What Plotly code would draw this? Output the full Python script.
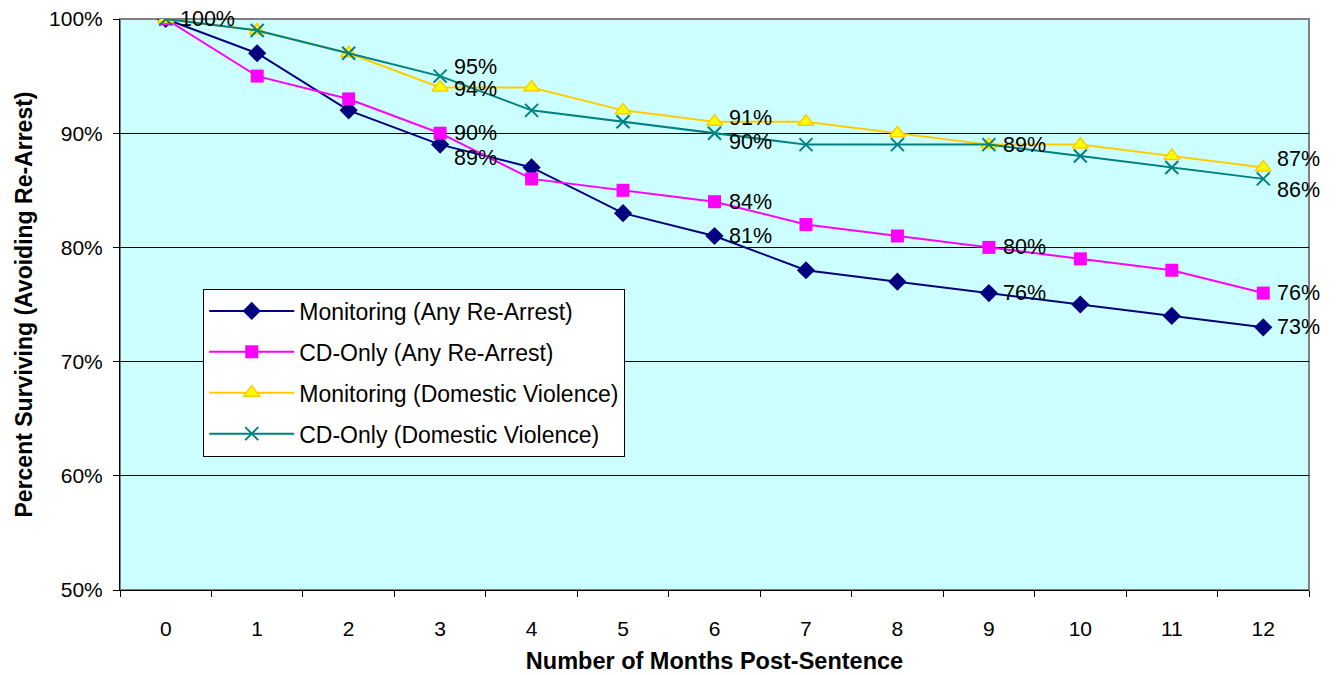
import plotly.graph_objects as go

months = [str(m) for m in range(13)]
mon_any = [1.00, 0.97, 0.92, 0.89, 0.87, 0.83, 0.81, 0.78, 0.77, 0.76, 0.75, 0.74, 0.73]
cd_any = [1.00, 0.95, 0.93, 0.90, 0.86, 0.85, 0.84, 0.82, 0.81, 0.80, 0.79, 0.78, 0.76]
mon_dv = [1.00, 0.99, 0.97, 0.94, 0.94, 0.92, 0.91, 0.91, 0.90, 0.89, 0.89, 0.88, 0.87]
cd_dv = [1.00, 0.99, 0.97, 0.95, 0.92, 0.91, 0.90, 0.89, 0.89, 0.89, 0.88, 0.87, 0.86]
y_ticks = [0.5, 0.6, 0.7, 0.8, 0.9, 1.0]

# data labels: (series values, month index, vertical pixel shift)
label_specs = [
    (cd_any, 0, 0),
    (cd_dv, 3, 9), (mon_dv, 3, -1), (cd_any, 3, 0), (mon_any, 3, -13),
    (mon_dv, 6, 4), (cd_dv, 6, -9), (cd_any, 6, 0), (mon_any, 6, 0),
    (cd_dv, 9, 0), (cd_any, 9, 0), (mon_any, 9, 0),
    (mon_dv, 12, 8), (cd_dv, 12, -11), (cd_any, 12, 0), (mon_any, 12, 0),
]

FONT = "Arial, Liberation Sans, sans-serif"

fig = go.Figure()
fig.add_trace(go.Scatter(x=months, y=mon_any, mode="lines+markers",
                         name="Monitoring (Any Re-Arrest)", legendgroup="a",
                         line=dict(color="#000080", width=2),
                         marker=dict(symbol="diamond", size=14, color="#000080")))
fig.add_trace(go.Scatter(x=months, y=cd_any, mode="lines+markers",
                         name="CD-Only (Any Re-Arrest)", legendgroup="b",
                         line=dict(color="#FF00FF", width=2),
                         marker=dict(symbol="square", size=13, color="#FF00FF")))
fig.add_trace(go.Scatter(x=months, y=mon_dv, mode="lines+markers",
                         name="Monitoring (Domestic Violence)", legendgroup="c",
                         line=dict(color="#FFCC00", width=2),
                         marker=dict(symbol="triangle-up", size=14, color="#FFFF00",
                                     line=dict(color="#FFCC00", width=1.5))))
fig.add_trace(go.Scatter(x=months, y=cd_dv, mode="lines+markers",
                         name="CD-Only (Domestic Violence)", legendgroup="d",
                         line=dict(color="#008080", width=2),
                         marker=dict(symbol="x-thin", size=13, color="#008080",
                                     line=dict(color="#008080", width=2))))

for series, idx, dy in label_specs:
    fig.add_annotation(x=months[idx], y=series[idx], text=f"{series[idx]*100:.0f}%",
                       showarrow=False, xanchor="left", yanchor="middle",
                       xshift=12, yshift=dy,
                       font=dict(family=FONT, size=21.5, color="black"))

fig.add_shape(type="rect", xref="paper", yref="paper", x0=0, y0=0, x1=1, y1=1,
              line=dict(color="#808080", width=2), layer="below")

fig.update_layout(
    width=1320, height=667,
    margin=dict(l=112, r=19, t=11, b=85, autoexpand=False),
    paper_bgcolor="white", plot_bgcolor="#CCFFFF",
    font=dict(family=FONT, size=21, color="black"),
    showlegend=True,
    legend=dict(x=0.07, y=0.528, xanchor="left", yanchor="top",
                bgcolor="white", bordercolor="black", borderwidth=1,
                font=dict(family=FONT, size=23, color="black"),
                traceorder="grouped", tracegroupgap=8,
                itemwidth=85),
    xaxis=dict(type="category", range=[-0.5, 12.5], showgrid=False,
               ticks="outside", tickson="boundaries", ticklen=6, tickcolor="black",
               showline=True, linecolor="black", linewidth=1,
               ticklabelstandoff=20,
               title=dict(text="<b>Number of Months Post-Sentence</b>", standoff=13,
                          font=dict(family=FONT, size=23.5, color="black")),
               tickfont=dict(family=FONT, size=21, color="black")),
    yaxis=dict(range=[0.5, 1.0], tickvals=y_ticks, tickformat=".0%",
               showgrid=True, gridcolor="#000000", gridwidth=1,
               ticks="outside", ticklen=6, tickcolor="black",
               showline=True, linecolor="black", linewidth=1,
               zeroline=False, ticklabelstandoff=6, ticklabeloverflow="allow",
               title=dict(text="<b>Percent Surviving (Avoiding Re-Arrest)</b>", standoff=10,
                          font=dict(family=FONT, size=23, color="black")),
               tickfont=dict(family=FONT, size=21, color="black")),
)

fig.write_html("out.html")
